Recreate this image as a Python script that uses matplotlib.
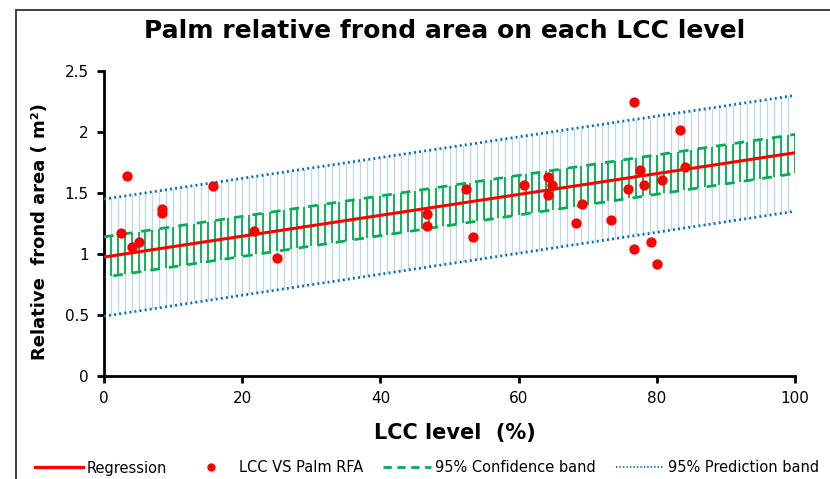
import numpy as np
import matplotlib
matplotlib.use("Agg")
import matplotlib.pyplot as plt
from matplotlib.lines import Line2D
from matplotlib.patches import Rectangle

# ---- data ----
lcc = [2.5, 3.3, 4.1, 5.1, 8.4, 8.4, 15.8, 21.7, 25.0, 46.7, 46.7, 52.4, 53.4,
       60.8, 64.2, 64.9, 64.2, 69.2, 68.3, 73.4, 76.7, 75.9, 77.5, 78.2, 80.8,
       83.3, 84.1, 76.7, 79.2, 80.0]
rfa = [1.17, 1.64, 1.06, 1.10, 1.37, 1.34, 1.56, 1.19, 0.965, 1.325, 1.232, 1.535, 1.137,
       1.568, 1.629, 1.566, 1.484, 1.412, 1.252, 1.281, 2.249, 1.535, 1.689, 1.566, 1.609,
       2.016, 1.711, 1.038, 1.098, 0.915]
# straight lines read at the two ends of the x range
line_x = [0, 100]
regression = [0.975, 1.83]
conf_low = [0.81, 1.66]
conf_high = [1.14, 1.98]
pred_low = [0.49, 1.35]
pred_high = [1.45, 2.30]
band_x = list(range(0, 101))  # positions of the drawn band bars
x_ticks = [0, 20, 40, 60, 80, 100]
y_ticks = [0, 0.5, 1, 1.5, 2, 2.5]
y_tick_labels = ["0", "0.5", "1", "1.5", "2", "2.5"]
title = "Palm relative frond area on each LCC level"
x_label = "LCC level  (%)"
y_label = "Relative  frond area ( m²)"
legend_labels = ["Regression", "LCC VS Palm RFA", "95% Confidence band", "95% Prediction band"]

xg = np.array(band_x, dtype=float)
def on_line(vals):
    return np.interp(xg, line_x, vals)

plt.rcParams['lines.scale_dashes'] = False
fig = plt.figure(figsize=(8.3, 4.79), dpi=100)
ax = fig.add_axes([104 / 830, 103 / 479, 691 / 830, 305 / 479])

blue_band = "#BDD7EE"
blue_line = "#0070C0"
green = "#00B050"
red = "#FF0000"

# prediction band bars
ax.vlines(xg, on_line(pred_low), on_line(pred_high), color=blue_band, lw=0.9, zorder=1)
# confidence band bars
ax.vlines(xg, on_line(conf_low), on_line(conf_high), color=green, lw=1.3, zorder=2)
ax.plot(line_x, conf_high, color=green, lw=2.0, ls=(0, (7, 6.5)), zorder=3)
ax.plot(line_x, conf_low, color=green, lw=2.0, ls=(6.75, (7, 6.5)), zorder=3)
ax.plot(line_x, pred_high, color=blue_line, lw=2.0, ls=(0, (1.4, 2.3)), zorder=3)
ax.plot(line_x, pred_low, color=blue_line, lw=2.0, ls=(0, (1.4, 2.3)), zorder=3)
ax.plot(line_x, regression, color=red, lw=2.2, zorder=4)
ax.scatter(lcc, rfa, s=55, color=red, zorder=5, linewidths=0)

ax.set_xlim(0, 100)
ax.set_ylim(0, 2.5)
ax.set_xticks(x_ticks)
ax.set_yticks(y_ticks)
ax.set_yticklabels(y_tick_labels)
for sp in ['top', 'right']:
    ax.spines[sp].set_visible(False)
for sp in ['left', 'bottom']:
    ax.spines[sp].set_linewidth(2.0)
ax.tick_params(direction='out', length=5, width=2.0, labelsize=11, pad=6)
ax.set_xlabel(x_label, fontsize=15, fontweight='bold')
ax.set_ylabel(y_label, fontsize=13, fontweight='bold')
ax.xaxis.set_label_coords((455 - 104) / 691, (376 - 433) / 305)
ax.yaxis.set_label_coords((40 - 104) / 691, (376 - 232) / 305)
ax.xaxis.label.set_va('center')
ax.yaxis.label.set_va('center')

fig.text(445 / 830, 1 - 31 / 479, title, fontsize=18, fontweight='bold',
         ha='center', va='center')

handles = [
    Line2D([], [], color=red, lw=2.4),
    Line2D([], [], color=red, marker='o', ls='none', markersize=5),
    Line2D([], [], color=green, lw=2.0, ls=(0, (6, 4))),
    Line2D([], [], color=blue_line, lw=1.3, ls=(0, (1, 1.5))),
]
fig.legend(handles, legend_labels, loc='center', bbox_to_anchor=(427 / 830, 11 / 479), ncol=4,
           frameon=False, prop={'size': 10.5}, handlelength=3.3,
           handletextpad=0.27, columnspacing=1.37, borderaxespad=0, borderpad=0)

fig.patches.append(Rectangle((16 / 830, -0.1), 1.2, 1.1 - 10 / 479,
                             transform=fig.transFigure, fill=False, lw=1.3,
                             edgecolor="#303030"))

fig.savefig("out.png", dpi=100)
